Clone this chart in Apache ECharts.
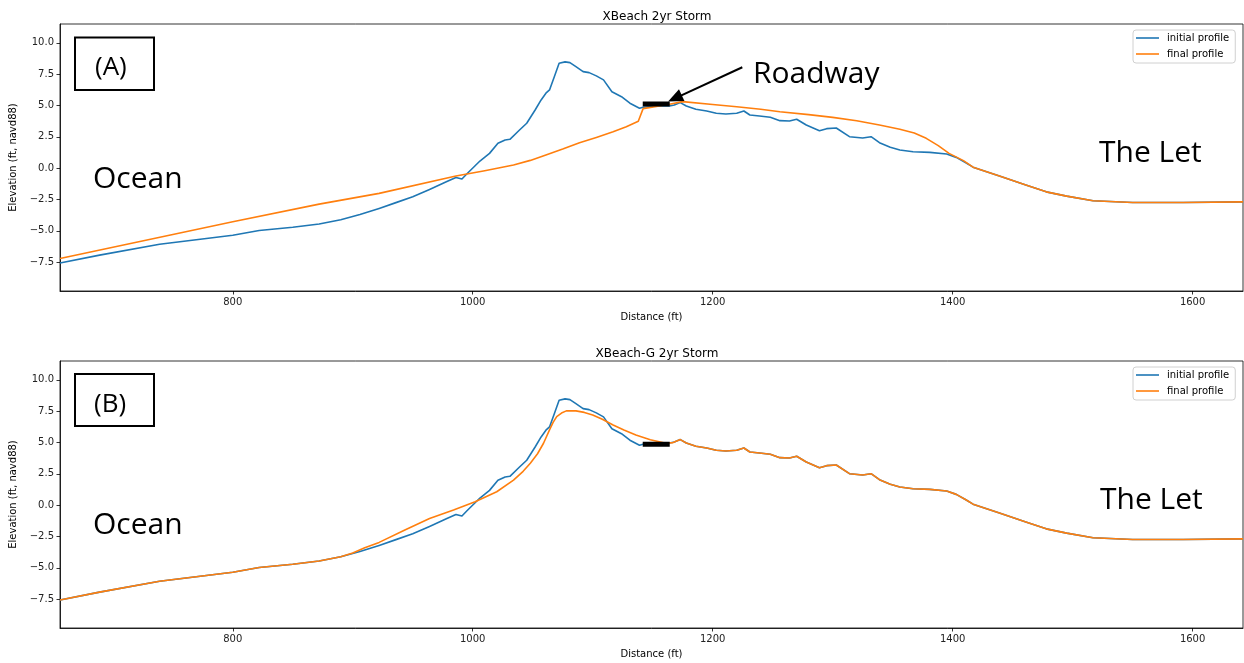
<!DOCTYPE html>
<html>
<head>
<meta charset="utf-8">
<script src="https://cdn.jsdelivr.net/npm/echarts@6/dist/echarts.min.js"></script>
<style>
html,body{margin:0;padding:0;background:#fff;}
#c{width:1244px;height:663px;}
</style>
</head>
<body>
<div id="c"></div>
<script>
// ---- data (distance ft, elevation ft navd88) ----
const xTicks = [800, 1000, 1200, 1400, 1600];
const yTicks = [-7.5, -5, -2.5, 0, 2.5, 5, 7.5, 10];

const initialX = [656, 689, 739, 800, 822, 850, 872, 890, 906, 922, 936, 950, 964, 978, 986, 991, 995, 1006, 1014, 1021, 1027, 1031, 1039, 1045, 1052, 1057, 1061, 1064, 1068, 1072, 1077, 1081, 1086, 1092, 1097, 1103, 1109, 1116, 1124, 1131, 1139, 1142, 1153, 1164, 1168, 1173, 1178, 1186, 1195, 1203, 1211, 1220, 1226, 1231, 1239, 1248, 1256, 1264, 1270, 1278, 1289, 1295, 1303, 1314, 1325, 1332, 1339, 1348, 1356, 1367, 1381, 1395, 1403, 1411, 1417, 1439, 1461, 1478, 1495, 1517, 1550, 1592, 1642];
const initialY = [-7.56, -6.94, -6.07, -5.35, -4.97, -4.72, -4.45, -4.12, -3.70, -3.21, -2.75, -2.28, -1.70, -1.09, -0.74, -0.87, -0.47, 0.57, 1.18, 1.98, 2.25, 2.30, 3.04, 3.58, 4.64, 5.44, 5.98, 6.24, 7.30, 8.37, 8.48, 8.42, 8.10, 7.70, 7.62, 7.36, 7.04, 6.10, 5.70, 5.18, 4.78, 4.86, 4.96, 4.96, 5.04, 5.23, 4.96, 4.70, 4.56, 4.38, 4.32, 4.38, 4.56, 4.24, 4.16, 4.06, 3.79, 3.76, 3.90, 3.44, 2.99, 3.15, 3.20, 2.51, 2.40, 2.51, 2.03, 1.66, 1.45, 1.31, 1.26, 1.13, 0.86, 0.43, 0.08, -0.63, -1.35, -1.89, -2.23, -2.60, -2.74, -2.74, -2.69];

const finalAX = [656, 800, 872, 922, 986, 1010, 1034, 1048, 1061, 1075, 1089, 1103, 1117, 1128, 1138, 1142, 1164, 1175, 1200, 1220, 1240, 1256, 1280, 1300, 1320, 1339, 1356, 1368, 1378, 1388, 1397, 1409, 1417, 1439, 1461, 1478, 1495, 1517, 1550, 1592, 1642];
const finalAY = [-7.21, -4.28, -2.87, -2.01, -0.63, -0.20, 0.25, 0.62, 1.05, 1.52, 2.03, 2.45, 2.90, 3.30, 3.74, 4.75, 5.10, 5.31, 5.08, 4.90, 4.70, 4.50, 4.27, 4.05, 3.78, 3.44, 3.10, 2.80, 2.38, 1.80, 1.18, 0.60, 0.08, -0.63, -1.35, -1.89, -2.23, -2.60, -2.74, -2.74, -2.69];

const finalBX = [656, 689, 739, 800, 822, 850, 872, 890, 900, 910, 922, 943, 964, 984, 1002, 1020, 1034, 1042, 1048, 1054, 1059, 1064, 1067, 1070, 1074, 1078, 1086, 1093, 1100, 1108, 1117, 1126, 1136, 1148, 1161, 1167, 1173, 1178, 1186, 1195, 1203, 1211, 1220, 1226, 1231, 1239, 1248, 1256, 1264, 1270, 1278, 1289, 1295, 1303, 1314, 1325, 1332, 1339, 1348, 1356, 1367, 1381, 1395, 1403, 1411, 1417, 1439, 1461, 1478, 1495, 1517, 1550, 1592, 1642];
const finalBY = [-7.56, -6.94, -6.07, -5.35, -4.97, -4.72, -4.45, -4.12, -3.82, -3.40, -2.97, -2.00, -1.06, -0.39, 0.27, 1.07, 2.00, 2.70, 3.34, 4.10, 4.94, 6.00, 6.60, 7.06, 7.35, 7.52, 7.52, 7.40, 7.20, 6.85, 6.40, 6.00, 5.60, 5.22, 4.94, 4.99, 5.23, 4.96, 4.70, 4.56, 4.38, 4.32, 4.38, 4.56, 4.24, 4.16, 4.06, 3.79, 3.76, 3.90, 3.44, 2.99, 3.15, 3.20, 2.51, 2.40, 2.51, 2.03, 1.66, 1.45, 1.31, 1.26, 1.13, 0.86, 0.43, 0.08, -0.63, -1.35, -1.89, -2.23, -2.60, -2.74, -2.74, -2.69];

// roadway bars and arrow (data coordinates)
const roadwayAX = [1141.7, 1164.2];
const roadwayAY = [5.12, 5.12];
const roadwayBX = [1141.7, 1164.2];
const roadwayBY = [4.86, 4.86];
const arrowStart = [1224.7, 8.05];
const arrowEnd = [1168.5, 5.57];

const titles = ['XBeach 2yr Storm', 'XBeach-G 2yr Storm'];

// ---- build ----
const zip = (xs, ys) => xs.map((x, i) => [x, ys[i]]);
const BLUE = '#1f77b4', ORANGE = '#ff7f0e';
const TICKFONT = 'DejaVu Sans';
const ANNOFONT = 'Open Sans';
const OFF = 337;

function mkX(i) {
  return {
    type: 'value', gridIndex: i, min: 656, max: 1642,
    name: 'Distance (ft)', nameLocation: 'middle', nameGap: 21,
    nameTextStyle: {fontSize: 10, color: '#000', fontFamily: TICKFONT},
    axisLine: {show: true, onZero: false, lineStyle: {color: '#000', width: 0.8}},
    splitLine: {show: false},
    axisTick: {show: true, customValues: xTicks, length: 3.5, lineStyle: {color: '#000', width: 0.8}},
    axisLabel: {customValues: xTicks, margin: 6, fontSize: 10, color: '#222', fontFamily: TICKFONT, formatter: v => String(v)}
  };
}
function mkY(i) {
  return {
    type: 'value', gridIndex: i, min: -9.8, max: 11.5,
    name: 'Elevation (ft, navd88)', nameLocation: 'middle', nameGap: 38, nameRotate: 90,
    nameTextStyle: {fontSize: 10, color: '#000', fontFamily: TICKFONT},
    axisLine: {show: true, onZero: false, lineStyle: {color: '#000', width: 0.8}},
    splitLine: {show: false},
    axisTick: {show: true, customValues: yTicks, length: 3.5, lineStyle: {color: '#000', width: 0.8}},
    axisLabel: {customValues: yTicks, margin: 6, fontSize: 10, color: '#222', fontFamily: TICKFONT,
      formatter: v => Number(v).toFixed(1).replace('-', '\u2212')}
  };
}
function lineSeries(name, i, xs, ys, color) {
  return {
    name, type: 'line', xAxisIndex: i, yAxisIndex: i, data: zip(xs, ys),
    showSymbol: false, symbol: 'none', smooth: false, animation: false,
    lineStyle: {color, width: 1.6, join: 'round'}, itemStyle: {color}, z: 3
  };
}
function roadSeries(i, xs, ys, withArrow) {
  const s = {
    name: 'Roadway', type: 'line', xAxisIndex: i, yAxisIndex: i, data: zip(xs, ys),
    showSymbol: false, symbol: 'none', animation: false,
    lineStyle: {color: '#000', width: 5, cap: 'butt'}, itemStyle: {color: '#000'}, z: 5
  };
  if (withArrow) {
    s.markLine = {
      silent: true, animation: false, symbol: ['none', 'triangle'], symbolSize: [13, 15],
      lineStyle: {color: '#000', width: 2, type: 'solid'}, label: {show: false},
      emphasis: {disabled: true},
      data: [[{coord: arrowStart}, {coord: arrowEnd}]]
    };
  }
  return s;
}
function legend(i) {
  return {
    left: 1133, top: 30 + i * OFF, orient: 'vertical',
    data: ['initial profile', 'final profile'],
    icon: 'rect', itemWidth: 23, itemHeight: 1.6, itemGap: 4,
    padding: [2, 6, 3, 3],
    borderColor: '#d0d0d0', borderWidth: 1, borderRadius: 3, backgroundColor: 'rgba(255,255,255,0.8)',
    textStyle: {fontSize: 10, color: '#000', fontFamily: TICKFONT, lineHeight: 12, padding: [0, 0, 0, 3]},
    selectedMode: false
  };
}
function txt(x, y, text, size) {
  return {type: 'text', left: x, top: y - size * 0.44, z: 100, silent: true,
    style: {text, fontSize: size, fontFamily: ANNOFONT, fill: '#000'}};
}
function box(x, y, w, h) {
  return {type: 'rect', shape: {x, y, width: w, height: h}, z: 100, silent: true,
    style: {fill: 'none', stroke: '#000', lineWidth: 2}};
}

const chart = echarts.init(document.getElementById('c'), null, {renderer: 'canvas'});
chart.setOption({
  backgroundColor: '#fff',
  animation: false,
  title: titles.map((t, i) => ({text: t, left: 652, textAlign: 'center', top: 6 + i * OFF,
    textStyle: {fontSize: 12, fontWeight: 'normal', color: '#000', fontFamily: TICKFONT}})),
  grid: [0, 1].map(i => ({left: 60, top: 24 + i * OFF, width: 1183, height: 267,
    show: true, borderColor: '#000', borderWidth: 0.8, backgroundColor: 'transparent', containLabel: false})),
  legend: [legend(0), legend(1)],
  xAxis: [mkX(0), mkX(1)],
  yAxis: [mkY(0), mkY(1)],
  series: [
    lineSeries('initial profile', 0, initialX, initialY, BLUE),
    lineSeries('final profile', 0, finalAX, finalAY, ORANGE),
    roadSeries(0, roadwayAX, roadwayAY, true),
    lineSeries('initial profile', 1, initialX, initialY, BLUE),
    lineSeries('final profile', 1, finalBX, finalBY, ORANGE),
    roadSeries(1, roadwayBX, roadwayBY, false)
  ],
  graphic: [
    box(75, 37.5, 79, 52.5),
    txt(95, 66, '(A)', 26),
    txt(93, 177.5, 'Ocean', 30),
    txt(1099, 152, 'The Let', 30),
    txt(753, 72.5, 'Roadway', 30),
    box(75, 374, 79, 52),
    txt(94, 403.5, '(B)', 26),
    txt(93, 523.5, 'Ocean', 30),
    txt(1100, 498.5, 'The Let', 30)
  ]
});
</script>
</body>
</html>
